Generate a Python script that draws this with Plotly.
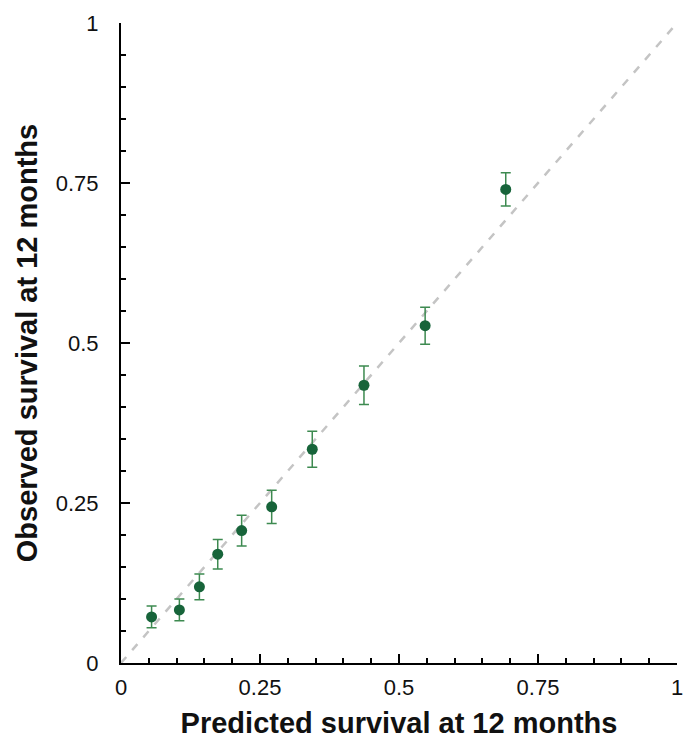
import plotly.graph_objects as go

predicted = [0.055, 0.105, 0.141, 0.174, 0.217, 0.271, 0.344, 0.437, 0.547, 0.692]
observed = [0.072, 0.083, 0.119, 0.170, 0.207, 0.244, 0.334, 0.434, 0.527, 0.740]
err = [0.017, 0.017, 0.020, 0.023, 0.024, 0.026, 0.028, 0.030, 0.029, 0.026]
ref_line = [0, 1]
tick_vals = [0, 0.25, 0.5, 0.75, 1]
tick_text = ["0", "0.25", "0.5", "0.75", "1"]

fig = go.Figure()
fig.add_trace(go.Scatter(x=ref_line, y=ref_line, mode="lines",
                         line=dict(color="#c4c4c4", width=2.5, dash="8px,9px"),
                         hoverinfo="skip", showlegend=False))
fig.add_trace(go.Scatter(x=predicted, y=observed, mode="markers",
                         marker=dict(color="#17643a", size=11),
                         error_y=dict(type="data", array=err, visible=True,
                                      color="#3d8a50", thickness=1.5, width=5),
                         showlegend=False))

axis_common = dict(range=[0, 1], tickvals=tick_vals, ticktext=tick_text,
                   showgrid=False, zeroline=False, showline=True,
                   linecolor="black", linewidth=2, ticks="inside", ticklen=9,
                   tickwidth=2, tickcolor="black",
                   tickfont=dict(family="Liberation Sans, Arial", size=22, color="#111"),
                   minor=dict(ticks="inside", ticklen=5, dtick=0.05, tick0=0,
                              tickwidth=1.5, tickcolor="black", showgrid=False))

title_font = dict(family="Liberation Sans, Arial", size=29, color="#111")

fig.update_layout(
    width=695, height=753,
    margin=dict(l=121, r=18, t=23, b=90),
    plot_bgcolor="white", paper_bgcolor="white",
    xaxis=dict(**axis_common,
               title=dict(text="<b>Predicted survival at 12 months</b>",
                          font=title_font, standoff=13),
               ticklabelstandoff=4),
    yaxis=dict(**axis_common,
               title=dict(text="<b>Observed survival at 12 months</b>",
                          font=title_font, standoff=10),
               ticklabelstandoff=16),
)

fig.write_html("out.html", config={"displayModeBar": False})

with open("out.html", "r", encoding="utf-8") as f:
    html = f.read()
html = html.replace("<body>", '<body style="margin:0;padding:0;overflow:hidden">', 1)
with open("out.html", "w", encoding="utf-8") as f:
    f.write(html)
